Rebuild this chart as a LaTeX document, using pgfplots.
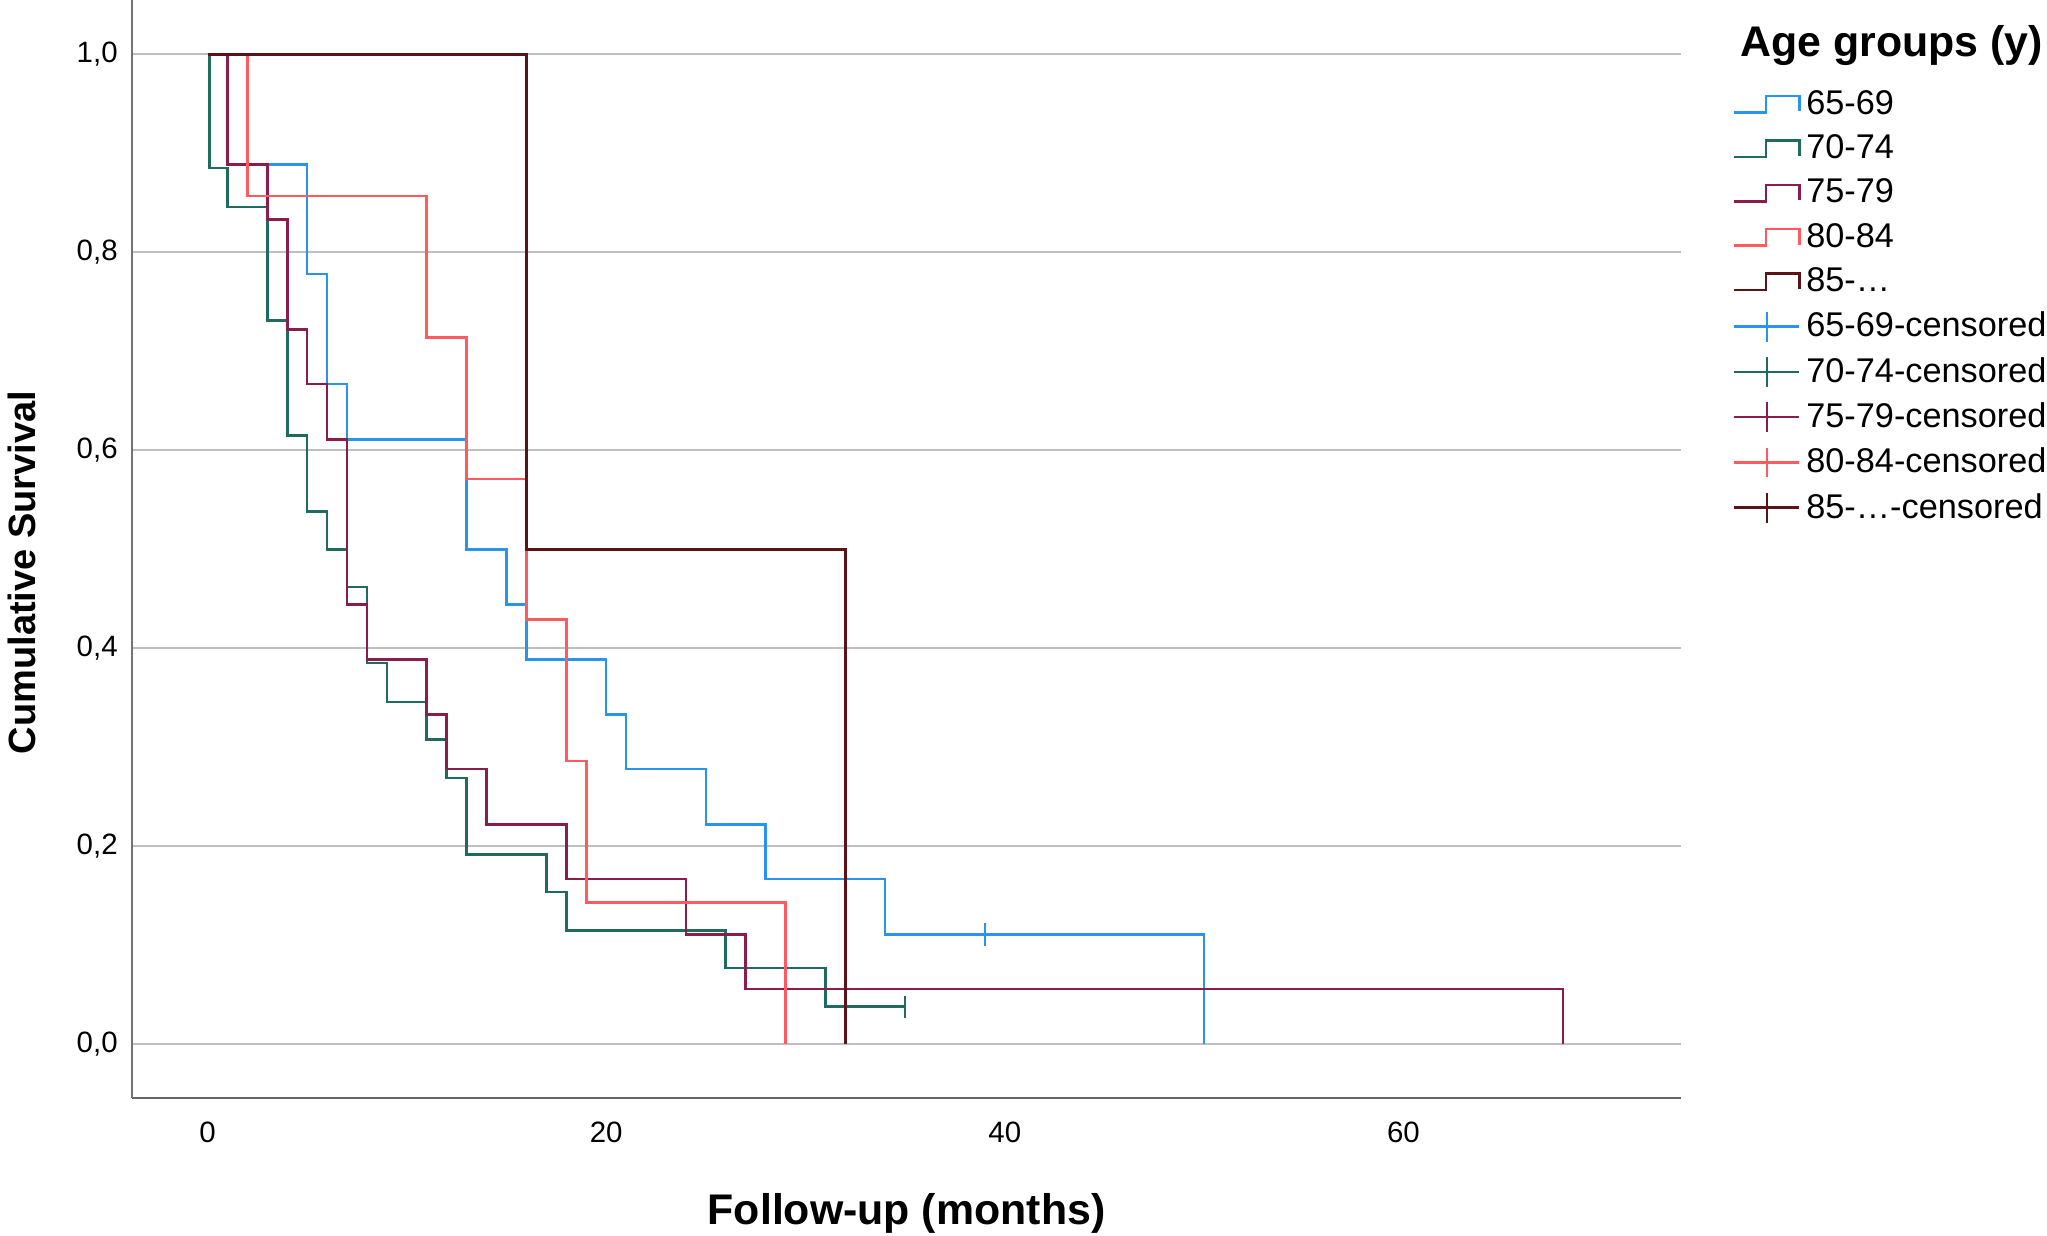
\documentclass[border=0pt]{standalone}
\usepackage{fontspec}
\setmainfont{Liberation Sans}
\usepackage{pgfplots}
\pgfplotsset{compat=1.18}
\definecolor{c65}{HTML}{2894EE}
\definecolor{c70}{HTML}{1F6B60}
\definecolor{c75}{HTML}{8C1C4C}
\definecolor{c80}{HTML}{FF5A60}
\definecolor{c85}{HTML}{5A1418}
\begin{document}
\begin{tikzpicture}
\path[use as bounding box] (-46.2pt,-48.3pt) rectangle (670.25pt,384.3pt);
\begin{axis}[
  at={(0pt,0pt)}, anchor=south west,
  scale only axis, width=542.15pt, height=384.3pt,
  xmin=-3.79, xmax=73.93, ymin=-0.0542, ymax=1.0549,
  clip=false,
  axis lines=left,
  x axis line style={-, draw=black!60, line width=1pt},
  y axis line style={-, draw=black!55, line width=0.8pt},
  xtick={0,20,40,60}, ytick={0,0.2,0.4,0.6,0.8,1},
  major tick length=0pt,
  ymajorgrids, grid style={line width=0.7pt, color=black!25},
  tick label style={font=\fontsize{10.3}{12}\selectfont, text=black},
  /pgf/number format/assume math mode=true,
  yticklabel style={/pgf/number format/fixed, /pgf/number format/fixed zerofill, /pgf/number format/precision=1, /pgf/number format/use comma, xshift=-1.5pt},
  xticklabel style={yshift=-5pt},
  xlabel={Follow-up (months)},
  xlabel style={at={(axis description cs:0.5,-0.1047)}, anchor=center, font=\bfseries\fontsize{15}{18}\selectfont},
  ylabel={Cumulative Survival},
  ylabel style={at={(axis description cs:-0.071,0.4785)}, anchor=center, font=\bfseries\fontsize{13.3}{16}\selectfont},
  legend style={at={(axis description cs:1.0336,0.923)}, anchor=north west, draw=none, fill=none, inner sep=0pt, outer sep=0pt, row sep=1.65pt, font=\fontsize{12}{14}\selectfont, cells={anchor=west}},
  legend image code/.code={\draw[#1, line width=0.9pt] (0pt,-2.9pt) -- (11pt,-2.9pt) -- (11pt,2.9pt) -- (22.75pt,2.9pt) -- (22.75pt,-2.5pt);},
  every axis plot/.append style={line width=0.9pt},
  const plot mark left,
]
\addplot[c65, no marks] coordinates {(0,1) (2,0.889) (5,0.778) (6,0.667) (7,0.611) (13,0.5) (15,0.444) (16,0.389) (20,0.333) (21,0.278) (25,0.222) (28,0.167) (34,0.111) (50,0)};
\addlegendentry{65-69}
\addplot[c70, no marks] coordinates {(0,1) (0.1,0.885) (1,0.846) (3,0.731) (4,0.615) (5,0.538) (6,0.5) (7,0.462) (8,0.385) (9,0.346) (11,0.308) (12,0.269) (13,0.192) (17,0.154) (18,0.115) (26,0.077) (31,0.038) (35,0.038)};
\addlegendentry{70-74}
\addplot[c75, no marks] coordinates {(0,1) (1,0.889) (3,0.833) (4,0.722) (5,0.667) (6,0.611) (7,0.444) (8,0.389) (11,0.333) (12,0.278) (14,0.222) (18,0.167) (24,0.111) (27,0.056) (68,0)};
\addlegendentry{75-79}
\addplot[c80, no marks] coordinates {(0,1) (2,0.857) (11,0.714) (13,0.571) (16,0.429) (18,0.286) (19,0.143) (29,0)};
\addlegendentry{80-84}
\addplot[c85, no marks] coordinates {(0,1) (16,0.5) (32,0)};
\addlegendentry{85-\dots}
\addplot[c65, only marks, mark=|, mark size=3.9pt, mark options={line width=0.9pt},
  legend image code/.code={\draw[c65,line width=0.9pt] (0pt,0pt) -- (22.75pt,0pt) (11.4pt,-5.2pt) -- (11.4pt,5.2pt);}] coordinates {(39,0.111)};
\addlegendentry{65-69-censored}
\addplot[c70, only marks, mark=|, mark size=3.9pt, mark options={line width=0.9pt},
  legend image code/.code={\draw[c70,line width=0.9pt] (0pt,0pt) -- (22.75pt,0pt) (11.4pt,-5.2pt) -- (11.4pt,5.2pt);}] coordinates {(35,0.038)};
\addlegendentry{70-74-censored}
\addlegendimage{legend image code/.code={\draw[c75,line width=0.9pt] (0pt,0pt) -- (22.75pt,0pt) (11.4pt,-5.2pt) -- (11.4pt,5.2pt);}}
\addlegendentry{75-79-censored}
\addlegendimage{legend image code/.code={\draw[c80,line width=0.9pt] (0pt,0pt) -- (22.75pt,0pt) (11.4pt,-5.2pt) -- (11.4pt,5.2pt);}}
\addlegendentry{80-84-censored}
\addlegendimage{legend image code/.code={\draw[c85,line width=0.9pt] (0pt,0pt) -- (22.75pt,0pt) (11.4pt,-5.2pt) -- (11.4pt,5.2pt);}}
\addlegendentry{85-\dots-censored}
\node[anchor=base west, font=\bfseries\fontsize{15}{18}\selectfont, inner sep=0pt] at (axis description cs:1.0381,0.9485) {Age groups (y)};
\end{axis}
\end{tikzpicture}
\end{document}
